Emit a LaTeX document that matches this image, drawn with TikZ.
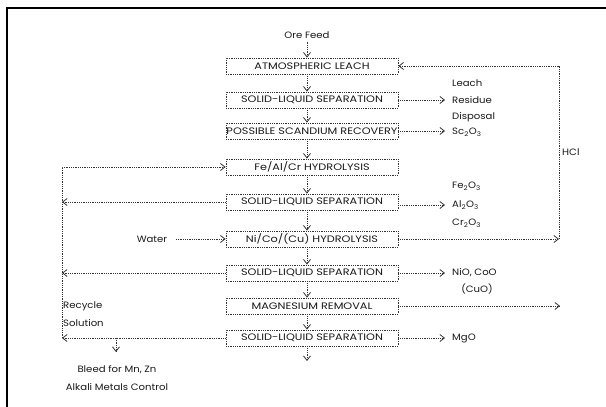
\documentclass[tikz,border=0pt]{standalone}
\usepackage{fontspec}
\setmainfont[FakeStretch=1.1]{Poppins}
\newfontfamily\stagefont[FakeStretch=1.2]{Poppins}
\usetikzlibrary{arrows.meta}
\begin{document}
\begin{tikzpicture}[x=1pt,y=-1pt,
  font=\fontsize{9.2}{11}\selectfont,
  every node/.append style={text=black!90, inner sep=0pt},
  stage/.style={draw=black!80, densely dotted, line width=0.8pt,
    minimum width=172pt, minimum height=16pt,
    font=\stagefont\fontsize{9.4}{11}\selectfont},
  flow/.style={draw=black!80, densely dotted, line width=0.8pt},
  arr/.style={flow, -{Straight Barb[length=4.5pt,width=7pt,line width=0.8pt]}},
  lbl/.style={anchor=west, align=left}]
\useasboundingbox (0,0) rectangle (606,407);
% page frame
\draw[line width=2pt] (7,407) -- (7,8) -- (606,8);

% process stages
\node[stage] (leach) at (312,66)  {ATMOSPHERIC LEACH};
\node[stage] (sl1)   at (312,100) {SOLID-LIQUID SEPARATION};
\node[stage] (sc)    at (312,131) {POSSIBLE SCANDIUM RECOVERY};
\node[stage] (fe)    at (312,167) {Fe/Al/Cr HYDROLYSIS};
\node[stage] (sl2)   at (312,202) {SOLID-LIQUID SEPARATION};
\node[stage] (ni)    at (312,239) {Ni/Co/(Cu) HYDROLYSIS};
\node[stage] (sl3)   at (312,273) {SOLID-LIQUID SEPARATION};
\node[stage] (mg)    at (312,306) {MAGNESIUM REMOVAL};
\node[stage] (sl4)   at (312,338) {SOLID-LIQUID SEPARATION};

\coordinate (fx) at (307,0);
\node (ore) at (307,35) {Ore Feed};
\coordinate (out) at (307,361);

% main downward flow
\draw[arr] (ore.south -| fx) ++(0,3) -- (leach.north -| fx);
\draw[arr] (leach.south -| fx) -- (sl1.north -| fx);
\draw[arr] (sl1.south -| fx) -- (sc.north -| fx);
\draw[arr] (sc.south -| fx) -- (fe.north -| fx);
\draw[arr] (fe.south -| fx) -- (sl2.north -| fx);
\draw[arr] (sl2.south -| fx) -- (ni.north -| fx);
\draw[arr] (ni.south -| fx) -- (sl3.north -| fx);
\draw[arr] (sl3.south -| fx) -- (mg.north -| fx);
\draw[arr] (mg.south -| fx) -- (sl4.north -| fx);
\draw[arr] (sl4.south -| fx) -- (out);

% products to the right
\coordinate (px) at (445,0);
\node[lbl] (res)  at (452,100) {Residue};
\node[lbl] (lch)  at (452,83)  {Leach};
\node[lbl] (dsp)  at (452,117) {Disposal};
\node[lbl] (sco)  at (452,132) {Sc\textsubscript{2}O\textsubscript{3}};
\node[lbl] (feo)  at (452,186) {Fe\textsubscript{2}O\textsubscript{3}};
\node[lbl] (alo)  at (452,205) {Al\textsubscript{2}O\textsubscript{3}};
\node[lbl] (cro)  at (452,223) {Cr\textsubscript{2}O\textsubscript{3}};
\node[lbl] (nio)  at (452,273) {NiO, CoO};
\node (cuo) at (477,289) {(CuO)};
\node[lbl] (mgo)  at (452,338) {MgO};

\draw[arr] (sl1.east) -- (sl1.east -| px);
\draw[arr] (sc.east)  -- (sc.east -| px);
\draw[arr] (sl2.east |- alo) -- (alo.west -| px);
\draw[arr] (sl3.east) -- (sl3.east -| px);
\draw[arr] (sl4.east) -- (sl4.east -| px);

% HCl recycle loop
\coordinate (hx) at (559,0);
\coordinate (mgx) at (560,0);
\draw[arr] (ni.east) -- (ni.east -| hx);
\draw[arr] (ni.east -| hx) -- (leach.east -| hx) -- (leach.east);
\node[lbl] (hcl) at (562,152) {HCl};
\draw[arr] (mg.east) -- (mg.east -| mgx);

% recycle solution on the left
\coordinate (rx) at (62,0);
\draw[arr] (sl4.west -| rx) -- (fe.west -| rx) -- (fe.west);
\draw[arr] (sl2.west) -- (sl2.west -| rx);
\draw[arr] (sl3.west) -- (sl3.west -| rx);
\draw[arr] (sl4.west) -- (sl4.west -| rx);
\node[lbl] (rec) at (63,306) {Recycle};
\node[lbl] (sol) at (63,323) {Solution};

% bleed stream
\coordinate (bl) at (116,338);
\draw[arr] (bl) -- ++(0,14);
\node (bleed1) at (117,370) {Bleed for Mn, Zn};
\node (bleed2) at (117,387) {Alkali Metals Control};

% water feed
\node (water) at (152,239) {Water};
\draw[arr] (176,239) -- (ni.west);
\end{tikzpicture}
\end{document}
